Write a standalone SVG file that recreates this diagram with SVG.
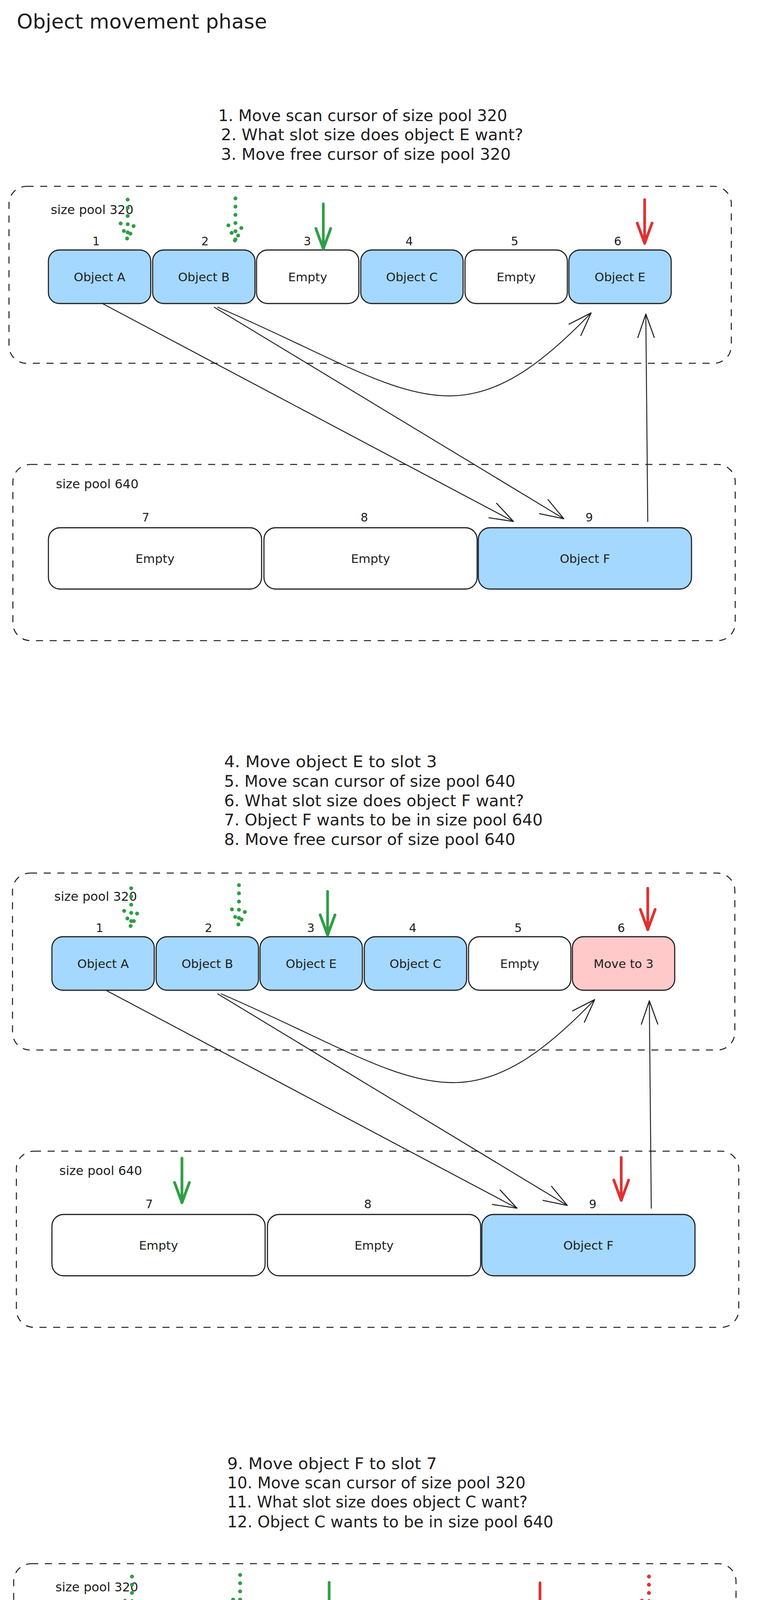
<svg xmlns="http://www.w3.org/2000/svg" width="1949" height="6968" viewBox="0 0 1949 6968">
<defs>
<style>
.t{font-family:'DejaVu Sans','Liberation Sans',sans-serif;fill:#1e1e1e}
.title{font-size:52px}
.step{font-size:40px}
.lbl{font-size:31px;text-anchor:middle}
.num{font-size:30px;text-anchor:middle}
.pool{font-size:32px}
.slot{stroke:#1e1e1e;stroke-width:2.8}
.blue{fill:#a5d8ff}
.white{fill:#ffffff}
.pink{fill:#ffc9c9}
.dash{fill:none;stroke:#1e1e1e;stroke-width:2.6;stroke-dasharray:18 17}
.conn{fill:none;stroke:#1e1e1e;stroke-width:2.4;marker-end:url(#ah)}
.sol{fill:none;stroke-width:7;stroke-linecap:round;stroke-linejoin:round}
.dot{fill:none;stroke-width:10;stroke-linecap:round;stroke-dasharray:0 21}
.g{stroke:#2f9e44}
.r{stroke:#e03131}
</style>
<marker id="ah" markerUnits="userSpaceOnUse" viewBox="-70 -30 80 60" markerWidth="80" markerHeight="60" refX="0" refY="0" orient="auto">
<path d="M-60,-21 L0,0 L-60,21" fill="none" stroke="#1e1e1e" stroke-width="2.6" stroke-linecap="round" stroke-linejoin="round"/>
</marker>
</defs>
<rect width="1949" height="6968" fill="#ffffff"/>

<g id="title">
<text class="t title" x="43" y="73" textLength="641" lengthAdjust="spacingAndGlyphs">Object movement phase</text>
</g>

<g id="steps">
<text class="t step" x="559" y="310" textLength="740" lengthAdjust="spacingAndGlyphs">1. Move scan cursor of size pool 320</text>
<text class="t step" x="566" y="359" textLength="774" lengthAdjust="spacingAndGlyphs">2. What slot size does object E want?</text>
<text class="t step" x="566" y="409" textLength="742" lengthAdjust="spacingAndGlyphs">3. Move free cursor of size pool 320</text>
<text class="t step" x="574" y="1964" textLength="545" lengthAdjust="spacingAndGlyphs">4. Move object E to slot 3</text>
<text class="t step" x="574" y="2014" textLength="746" lengthAdjust="spacingAndGlyphs">5. Move scan cursor of size pool 640</text>
<text class="t step" x="574" y="2064" textLength="768" lengthAdjust="spacingAndGlyphs">6. What slot size does object F want?</text>
<text class="t step" x="574" y="2113" textLength="816" lengthAdjust="spacingAndGlyphs">7. Object F wants to be in size pool 640</text>
<text class="t step" x="574" y="2163" textLength="746" lengthAdjust="spacingAndGlyphs">8. Move free cursor of size pool 640</text>
<text class="t step" x="582" y="3761" textLength="537" lengthAdjust="spacingAndGlyphs">9. Move object F to slot 7</text>
<text class="t step" x="582" y="3810" textLength="764" lengthAdjust="spacingAndGlyphs">10. Move scan cursor of size pool 320</text>
<text class="t step" x="582" y="3859" textLength="769" lengthAdjust="spacingAndGlyphs">11. What slot size does object C want?</text>
<text class="t step" x="582" y="3910" textLength="835" lengthAdjust="spacingAndGlyphs">12. Object C wants to be in size pool 640</text>
<text class="t step" x="656" y="5601" textLength="755" lengthAdjust="spacingAndGlyphs">13. Move free cursor of size pool 640</text>
<text class="t step" x="656" y="5651" textLength="562" lengthAdjust="spacingAndGlyphs">14. Move object C to slot 8</text>
<text class="t step" x="656" y="5700" textLength="475" lengthAdjust="spacingAndGlyphs">15. All cursors have met</text>
</g>

<!-- ================= PANEL 1 ================= -->
<g id="panel1" transform="translate(0,0)">
<g id="p1-pool320"><rect class="dash" x="23" y="477" width="1850" height="453" rx="45"/><text class="t pool" x="130" y="548">size pool 320</text></g>
<g id="p1-pool640"><rect class="dash" x="33" y="1189" width="1850" height="451" rx="45"/><text class="t pool" x="143" y="1250">size pool 640</text></g>
<g id="p1-s1"><rect class="slot blue" x="124" y="640" width="262" height="137" rx="28"/><text class="t lbl" x="255" y="720">Object A</text><text class="t num" x="246" y="628">1</text></g>
<g id="p1-s2"><rect class="slot blue" x="391" y="640" width="262" height="137" rx="28"/><text class="t lbl" x="522" y="720">Object B</text><text class="t num" x="525" y="628">2</text></g>
<g id="p1-s3"><rect class="slot white" x="657" y="640" width="262" height="137" rx="28"/><text class="t lbl" x="788" y="720">Empty</text><text class="t num" x="787" y="628">3</text></g>
<g id="p1-s4"><rect class="slot blue" x="924" y="640" width="262" height="137" rx="28"/><text class="t lbl" x="1055" y="720">Object C</text><text class="t num" x="1048" y="628">4</text></g>
<g id="p1-s5"><rect class="slot white" x="1191" y="640" width="262" height="137" rx="28"/><text class="t lbl" x="1322" y="720">Empty</text><text class="t num" x="1318" y="628">5</text></g>
<g id="p1-s6"><rect class="slot blue" x="1457" y="640" width="262" height="137" rx="28"/><text class="t lbl" x="1588" y="720">Object E</text><text class="t num" x="1582" y="628">6</text></g>
<g id="p1-s7"><rect class="slot white" x="124" y="1351" width="546" height="157" rx="30"/><text class="t lbl" x="397" y="1441">Empty</text><text class="t num" x="373" y="1335">7</text></g>
<g id="p1-s8"><rect class="slot white" x="676" y="1351" width="546" height="157" rx="30"/><text class="t lbl" x="949" y="1441">Empty</text><text class="t num" x="933" y="1335">8</text></g>
<g id="p1-s9"><rect class="slot blue" x="1225" y="1351" width="546" height="157" rx="30"/><text class="t lbl" x="1498" y="1441">Object F</text><text class="t num" x="1509" y="1335">9</text></g>
</g>

<!-- ================= PANEL 2 ================= -->
<g id="panel2" transform="translate(9,1758)">
<g id="p2-pool320"><rect class="dash" x="23" y="477" width="1850" height="453" rx="45"/><text class="t pool" x="130" y="548">size pool 320</text></g>
<g id="p2-pool640"><rect class="dash" x="33" y="1189" width="1850" height="451" rx="45"/><text class="t pool" x="143" y="1250">size pool 640</text></g>
<g id="p2-s1"><rect class="slot blue" x="124" y="640" width="262" height="137" rx="28"/><text class="t lbl" x="255" y="720">Object A</text><text class="t num" x="246" y="628">1</text></g>
<g id="p2-s2"><rect class="slot blue" x="391" y="640" width="262" height="137" rx="28"/><text class="t lbl" x="522" y="720">Object B</text><text class="t num" x="525" y="628">2</text></g>
<g id="p2-s3"><rect class="slot blue" x="657" y="640" width="262" height="137" rx="28"/><text class="t lbl" x="788" y="720">Object E</text><text class="t num" x="787" y="628">3</text></g>
<g id="p2-s4"><rect class="slot blue" x="924" y="640" width="262" height="137" rx="28"/><text class="t lbl" x="1055" y="720">Object C</text><text class="t num" x="1048" y="628">4</text></g>
<g id="p2-s5"><rect class="slot white" x="1191" y="640" width="262" height="137" rx="28"/><text class="t lbl" x="1322" y="720">Empty</text><text class="t num" x="1318" y="628">5</text></g>
<g id="p2-s6"><rect class="slot pink" x="1457" y="640" width="262" height="137" rx="28"/><text class="t lbl" x="1588" y="720">Move to 3</text><text class="t num" x="1582" y="628">6</text></g>
<g id="p2-s7"><rect class="slot white" x="124" y="1351" width="546" height="157" rx="30"/><text class="t lbl" x="397" y="1441">Empty</text><text class="t num" x="373" y="1335">7</text></g>
<g id="p2-s8"><rect class="slot white" x="676" y="1351" width="546" height="157" rx="30"/><text class="t lbl" x="949" y="1441">Empty</text><text class="t num" x="933" y="1335">8</text></g>
<g id="p2-s9"><rect class="slot blue" x="1225" y="1351" width="546" height="157" rx="30"/><text class="t lbl" x="1498" y="1441">Object F</text><text class="t num" x="1509" y="1335">9</text></g>
</g>

<!-- ================= PANEL 3 ================= -->
<g id="panel3" transform="translate(12,3526)">
<g id="p3-pool320"><rect class="dash" x="23" y="477" width="1850" height="453" rx="45"/><text class="t pool" x="130" y="548">size pool 320</text></g>
<g id="p3-pool640"><rect class="dash" x="33" y="1189" width="1850" height="451" rx="45"/><text class="t pool" x="143" y="1250">size pool 640</text></g>
<g id="p3-s1"><rect class="slot blue" x="124" y="640" width="262" height="137" rx="28"/><text class="t lbl" x="255" y="720">Object A</text><text class="t num" x="246" y="628">1</text></g>
<g id="p3-s2"><rect class="slot blue" x="391" y="640" width="262" height="137" rx="28"/><text class="t lbl" x="522" y="720">Object B</text><text class="t num" x="525" y="628">2</text></g>
<g id="p3-s3"><rect class="slot blue" x="657" y="640" width="262" height="137" rx="28"/><text class="t lbl" x="788" y="720">Object E</text><text class="t num" x="787" y="628">3</text></g>
<g id="p3-s4"><rect class="slot blue" x="924" y="640" width="262" height="137" rx="28"/><text class="t lbl" x="1055" y="720">Object C</text><text class="t num" x="1048" y="628">4</text></g>
<g id="p3-s5"><rect class="slot white" x="1191" y="640" width="262" height="137" rx="28"/><text class="t lbl" x="1322" y="720">Empty</text><text class="t num" x="1318" y="628">5</text></g>
<g id="p3-s6"><rect class="slot pink" x="1457" y="640" width="262" height="137" rx="28"/><text class="t lbl" x="1588" y="720">Move to 3</text><text class="t num" x="1582" y="628">6</text></g>
<g id="p3-s7"><rect class="slot blue" x="124" y="1351" width="546" height="157" rx="30"/><text class="t lbl" x="397" y="1441">Object F</text><text class="t num" x="373" y="1335">7</text></g>
<g id="p3-s8"><rect class="slot white" x="676" y="1351" width="546" height="157" rx="30"/><text class="t lbl" x="949" y="1441">Empty</text><text class="t num" x="933" y="1335">8</text></g>
<g id="p3-s9"><rect class="slot pink" x="1225" y="1351" width="546" height="157" rx="30"/><text class="t lbl" x="1498" y="1441">Move to 7</text><text class="t num" x="1509" y="1335">9</text></g>
</g>

<!-- ================= PANEL 4 ================= -->
<g id="panel4" transform="translate(47,5309)">
<g id="p4-pool320"><rect class="dash" x="23" y="477" width="1850" height="453" rx="45"/><text class="t pool" x="130" y="548">size pool 320</text></g>
<g id="p4-pool640"><rect class="dash" x="33" y="1189" width="1850" height="451" rx="45"/><text class="t pool" x="143" y="1250">size pool 640</text></g>
<g id="p4-s1"><rect class="slot blue" x="124" y="640" width="262" height="137" rx="28"/><text class="t lbl" x="255" y="720">Object A</text><text class="t num" x="246" y="628">1</text></g>
<g id="p4-s2"><rect class="slot blue" x="391" y="640" width="262" height="137" rx="28"/><text class="t lbl" x="522" y="720">Object B</text><text class="t num" x="525" y="628">2</text></g>
<g id="p4-s3"><rect class="slot blue" x="657" y="640" width="262" height="137" rx="28"/><text class="t lbl" x="788" y="720">Object E</text><text class="t num" x="787" y="628">3</text></g>
<g id="p4-s4"><rect class="slot pink" x="924" y="640" width="262" height="137" rx="28"/><text class="t lbl" x="1055" y="720">Move to 8</text><text class="t num" x="1048" y="628">4</text></g>
<g id="p4-s5"><rect class="slot white" x="1191" y="640" width="262" height="137" rx="28"/><text class="t lbl" x="1322" y="720">Empty</text><text class="t num" x="1318" y="628">5</text></g>
<g id="p4-s6"><rect class="slot pink" x="1457" y="640" width="262" height="137" rx="28"/><text class="t lbl" x="1588" y="720">Move to 3</text><text class="t num" x="1582" y="628">6</text></g>
<g id="p4-s7"><rect class="slot blue" x="124" y="1351" width="546" height="157" rx="30"/><text class="t lbl" x="397" y="1441">Object F</text><text class="t num" x="373" y="1335">7</text></g>
<g id="p4-s8"><rect class="slot blue" x="676" y="1351" width="546" height="157" rx="30"/><text class="t lbl" x="949" y="1441">Object C</text><text class="t num" x="933" y="1335">8</text></g>
<g id="p4-s9"><rect class="slot pink" x="1225" y="1351" width="546" height="157" rx="30"/><text class="t lbl" x="1498" y="1441">Move to 7</text><text class="t num" x="1509" y="1335">9</text></g>
</g>

<!-- ================= CONNECTORS ================= -->
<g id="connectors">
<g transform="translate(0,0)">
<path class="conn" d="M264,778 L1315,1335"/>
<path class="conn" d="M548,786 L1444,1328"/>
<path class="conn" d="M557,786 C1055,1001 1170,1160 1514,801"/>
<path class="conn" d="M1659,1336 L1654,804"/>
</g>
<g transform="translate(9,1758)">
<path class="conn" d="M264,778 L1315,1335"/>
<path class="conn" d="M548,786 L1444,1328"/>
<path class="conn" d="M557,786 C1055,1001 1170,1160 1514,801"/>
<path class="conn" d="M1659,1336 L1654,804"/>
</g>
<g transform="translate(12,3526)">
<path class="conn" d="M264,778 L1315,1335"/>
<path class="conn" d="M548,786 L1444,1328"/>
<path class="conn" d="M557,786 C1055,1001 1170,1160 1514,801"/>
<path class="conn" d="M537,1322 C1150,1190 1400,1060 1655,804"/>
</g>
<g transform="translate(47,5309)">
<path class="conn" d="M264,778 L1315,1335"/>
<path class="conn" d="M548,786 L1444,1328"/>
<path class="conn" d="M557,786 C1055,1001 1170,1160 1514,801"/>
<path class="conn" d="M537,1322 C1150,1190 1400,1060 1655,804"/>
</g>
</g>

<!-- ================= CURSORS ================= -->
<g id="cursors">
<g id="p1-cursors" transform="translate(0,0)">
<path class="dot g" d="M327,511 L327,614 M309,572 L327,614 L345,572"/>
<path class="dot g" d="M603,508 L603,619 M585,577 L603,619 L621,577"/>
<path class="sol g" d="M828,522 L828,637 M809,585 L828,637 L847,585"/>
<path class="sol r" d="M1651,511 L1651,623 M1632,571 L1651,623 L1670,571"/>
</g>
<g id="p2-cursors" transform="translate(9,1758)">
<path class="dot g" d="M327,516 L327,616 M309,574 L327,616 L345,574"/>
<path class="dot g" d="M603,508 L603,612 M585,570 L603,612 L621,570"/>
<path class="sol g" d="M830,524 L830,636 M811,584 L830,636 L849,584"/>
<path class="sol r" d="M1650,516 L1650,622 M1631,570 L1650,622 L1669,570"/>
<path class="sol g" d="M457,1207 L457,1321 M438,1269 L457,1321 L476,1269"/>
<path class="sol r" d="M1582,1205 L1582,1315 M1563,1263 L1582,1315 L1601,1263"/>
</g>
<g id="p3-cursors" transform="translate(12,3526)">
<path class="dot g" d="M326,510 L326,614 M308,572 L326,614 L344,572"/>
<path class="dot g" d="M603,506 L603,611 M585,569 L603,611 L621,569"/>
<path class="sol g" d="M831,525 L831,637 M812,585 L831,637 L850,585"/>
<path class="sol r" d="M1371,526 L1371,634 M1352,582 L1371,634 L1390,582"/>
<path class="dot r" d="M1650,510 L1650,614 M1632,572 L1650,614 L1668,572"/>
<path class="sol g" d="M457,1206 L457,1318 M438,1266 L457,1318 L476,1266"/>
<path class="sol r" d="M1583,1206 L1583,1313 M1564,1261 L1583,1313 L1602,1261"/>
</g>
<g id="p4-cursors" transform="translate(47,5309)">
<path class="dot g" d="M326,513 L326,616 M308,574 L326,616 L344,574"/>
<path class="dot g" d="M606,505 L606,610 M588,568 L606,610 L624,568"/>
<path class="dot g" d="M832,524 L832,628 M814,586 L832,628 L850,586"/>
<path class="sol g" d="M995,511 L995,625 M976,573 L995,625 L1014,573"/>
<path class="sol r" d="M1111,516 L1111,625 M1092,573 L1111,625 L1130,573"/>
<path class="dot r" d="M1373,521 L1373,625 M1355,583 L1373,625 L1391,583"/>
<path class="dot r" d="M1652,512 L1652,616 M1634,574 L1652,616 L1670,574"/>
<path class="dot g" d="M454,1206 L454,1307 M436,1265 L454,1307 L472,1265"/>
<path class="sol g" d="M843,1212 L843,1327 M824,1275 L843,1327 L862,1275"/>
<path class="sol r" d="M1019,1227 L1019,1336 M1000,1284 L1019,1336 L1038,1284"/>
<path class="dot r" d="M1581,1207 L1581,1316 M1563,1274 L1581,1316 L1599,1274"/>
</g>
</g>
</svg>
